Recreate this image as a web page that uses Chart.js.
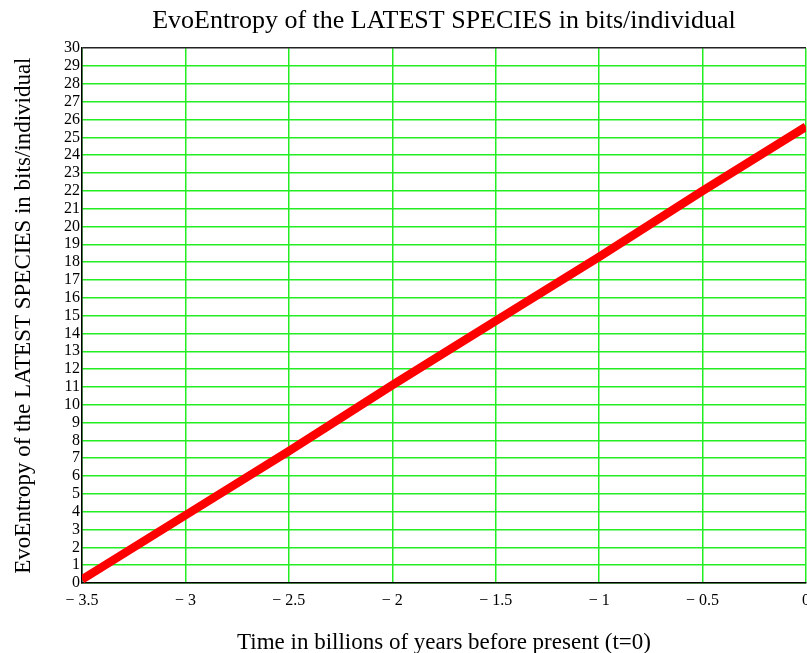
<!DOCTYPE html>
<html lang="en">
   <head>
      <meta charset="UTF-8">
      <title>EvoEntropy of the LATEST SPECIES</title>
      <script src="https://cdn.jsdelivr.net/npm/chart.js"></script>
      <style>
         body { margin: 0; background: #fff; overflow: hidden; }
         .chart-box { width: 807px; height: 653px; }
      </style>
   </head>
   <body>
      <div class="chart-box">
         <canvas id="evoChart"></canvas>
      </div>
      <script>
         // Dados
         const timeGyr = [-3.5, -3, -2.5, -2, -1.5, -1, -0.5, 0];
         const evoEntropy = [0.2, 3.8, 7.4, 11.1, 14.7, 18.3, 22.0, 25.6];
         const xTickLabels = ['− 3.5', '− 3', '− 2.5', '− 2', '− 1.5', '− 1', '− 0.5', '0'];

         const serif = 'Liberation Serif, Times New Roman, serif';
         const green = '#22ee22';

         const points = timeGyr.map((t, i) => ({ x: t, y: evoEntropy[i] }));

         new Chart(document.getElementById('evoChart'), {
             type: 'line',
             data: {
                 datasets: [{
                     data: points,
                     borderColor: '#ff0000',
                     borderWidth: 8.5,
                     pointRadius: 0,
                     tension: 0,
                     borderCapStyle: 'butt'
                 }]
             },
             options: {
                 responsive: true,
                 maintainAspectRatio: false,
                 animation: false,
                 layout: { padding: { left: 10, right: 1, top: 0, bottom: 0 } },
                 plugins: {
                     legend: { display: false },
                     tooltip: { enabled: false },
                     title: {
                         display: true,
                         text: 'EvoEntropy of the LATEST SPECIES in bits/individual',
                         fullSize: false,
                         color: '#000',
                         font: { family: serif, size: 26, weight: 'normal' },
                         padding: { top: 6, bottom: 11 }
                     }
                 },
                 scales: {
                     x: {
                         type: 'linear',
                         min: -3.5,
                         max: 0,
                         afterFit: (scale) => {
                             scale.height = 70;
                             scale.paddingLeft = 0;
                             scale.paddingRight = 0;
                         },
                         ticks: {
                             stepSize: 0.5,
                             autoSkip: false,
                             maxRotation: 0,
                             padding: 8,
                             color: '#000',
                             font: { family: serif, size: 16 },
                             callback: (value) => {
                                 const i = timeGyr.findIndex(t => Math.abs(t - value) < 1e-6);
                                 return i >= 0 ? xTickLabels[i] : '';
                             }
                         },
                         grid: {
                             color: green,
                             lineWidth: 1.5,
                             drawTicks: false
                         },
                         border: { display: true, color: '#000', width: 1.5 },
                         title: {
                             display: true,
                             text: 'Time in billions of years before present (t=0)',
                             color: '#000',
                             font: { family: serif, size: 23 },
                             padding: { top: 18, bottom: -4 }
                         }
                     },
                     y: {
                         min: 0,
                         max: 30,
                         afterFit: (scale) => {
                             scale.width = 72;
                             scale.paddingTop = 0;
                             scale.paddingBottom = 0;
                         },
                         ticks: {
                             stepSize: 1,
                             autoSkip: false,
                             padding: 2,
                             color: '#000',
                             font: { family: serif, size: 16 }
                         },
                         grid: {
                             color: (ctx) => (ctx.tick && ctx.tick.value === 30 ? '#222' : green),
                             lineWidth: 1.5,
                             drawTicks: false
                         },
                         border: { display: true, color: '#000', width: 1.5 },
                         title: {
                             display: true,
                             text: 'EvoEntropy of the LATEST SPECIES in bits/individual',
                             color: '#000',
                             font: { family: serif, size: 23 },
                             padding: { top: 0, bottom: 18 }
                         }
                     }
                 }
             }
         });
      </script>
   </body>
</html>
